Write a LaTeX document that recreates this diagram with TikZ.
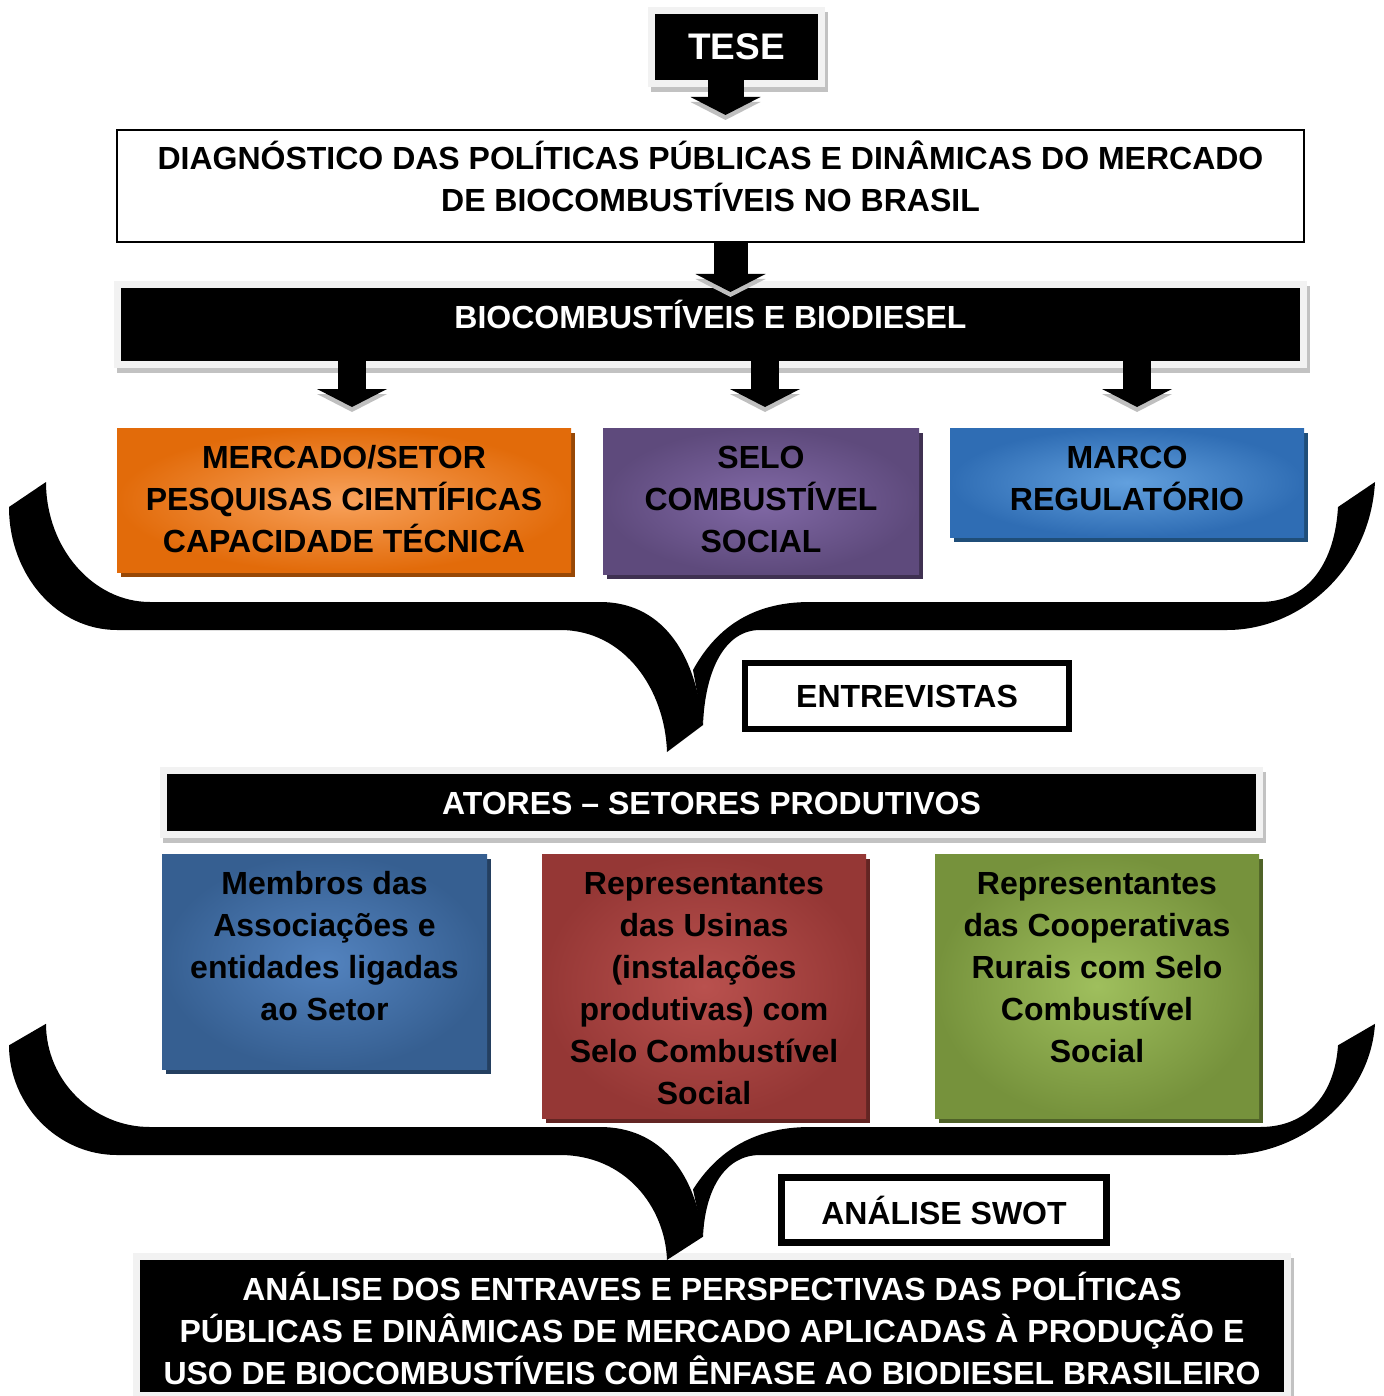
\documentclass[tikz,border=0pt]{standalone}
\usepackage{fontspec}
\setmainfont{Liberation Sans}
\usepackage{xcolor}
\usepackage{tikz}
\usetikzlibrary{arrows.meta,positioning,calc}
\definecolor{orgLight}{HTML}{F8A25C}
\definecolor{orgDark}{HTML}{E26B0A}
\definecolor{orgShadow}{HTML}{974806}
\definecolor{purLight}{HTML}{8169A6}
\definecolor{purDark}{HTML}{5E4A7C}
\definecolor{purShadow}{HTML}{3F3151}
\definecolor{bluLight}{HTML}{62A0DE}
\definecolor{bluDark}{HTML}{2F6DB4}
\definecolor{bluShadow}{HTML}{1F4E79}
\definecolor{navLight}{HTML}{5383BF}
\definecolor{navDark}{HTML}{365F91}
\definecolor{navShadow}{HTML}{243F60}
\definecolor{redLight}{HTML}{B9514E}
\definecolor{redDark}{HTML}{953735}
\definecolor{redShadow}{HTML}{632523}
\definecolor{grnLight}{HTML}{9FBF5D}
\definecolor{grnDark}{HTML}{76923C}
\definecolor{grnShadow}{HTML}{4F6228}

\newcommand{\boxtext}[3]{\parbox[c][#2][t]{#1}{\centering\rule{0pt}{40pt}#3}}
% #1 = top of the band, #2 = vertical scale of arms and tip
\newcommand{\bigbrace}[2]{%
  \fill (9,{#1-95*#2}) .. controls (9,{#1-27*#2}) and (57,#1+28) .. (117,#1+28)
    -- (560,#1+28) .. controls (625,#1+28) and (665,{#1+28+60*#2}) .. (667,{#1+28+122*#2})
    -- (703,{#1+28+95*#2}) .. controls (695,{#1+28+20*#2}) and (660,#1) .. (600,#1)
    -- (150,#1) .. controls (93,#1) and (46,{#1-54*#2}) .. (46,{#1-120*#2}) -- cycle;
  \fill (703,{#1+28+95*#2}) .. controls (705,{#1+28+40*#2}) and (725,#1+28) .. (760,#1+28)
    -- (1227,#1+28) .. controls (1300,#1+28) and (1370,{#1-32*#2}) .. (1375,{#1-120*#2})
    -- (1338,{#1-95*#2}) .. controls (1335,{#1-42*#2}) and (1310,#1) .. (1260,#1)
    -- (810,#1) .. controls (750,#1) and (715,#1+28) .. (693,{#1+28+40*#2}) -- cycle;
}

\begin{document}
\begin{tikzpicture}[x=1pt, y=-1pt,
    font=\fontsize{32}{42}\selectfont\bfseries,
    every node/.style={inner sep=0pt, outer sep=0pt, anchor=north west},
    darkbar/.style={fill=black, text=white,
      preaction={draw=black!24, line width=14pt, transform canvas={xshift=3pt, yshift=-5pt}},
      preaction={draw=black!5, line width=14pt}},
    tile/.style n args={3}{inner color=#1, outer color=#2,
      preaction={fill=#3, transform canvas={xshift=4pt, yshift=-5pt}}},
    framebox/.style={draw=black, line width=6.5pt, fill=white, anchor=center},
    blockarrow/.style={line width=#1, -{Triangle[width=70pt, length=18pt, line width=0pt]}}]
  \useasboundingbox (0,0) rectangle (1383,1396);

  \node[darkbar, minimum width=163pt, minimum height=66pt,
        font=\fontsize{37}{40}\selectfont\bfseries] (tese) at (655,14) {TESE};
  \node[draw=black, line width=2pt, fill=white] (diag) at (117,130)
    {\boxtext{1187pt}{112pt}{DIAGNÓSTICO DAS POLÍTICAS PÚBLICAS E DINÂMICAS DO MERCADO\\DE BIOCOMBUSTÍVEIS NO BRASIL}};
  \node[darkbar] (bio) at (121,288) {\boxtext{1179pt}{73pt}{BIOCOMBUSTÍVEIS E BIODIESEL}};

  \node[tile={orgLight}{orgDark}{orgShadow}] (merc) at (117,428)
    {\boxtext{454pt}{144pt}{MERCADO/SETOR\\PESQUISAS CIENTÍFICAS\\CAPACIDADE TÉCNICA}};
  \node[tile={purLight}{purDark}{purShadow}] (selo) at (603,428)
    {\boxtext{316pt}{146pt}{SELO\\COMBUSTÍVEL\\SOCIAL}};
  \node[tile={bluLight}{bluDark}{bluShadow}] (marco) at (950,428)
    {\boxtext{354pt}{109pt}{MARCO\\REGULATÓRIO}};

  \node[framebox, minimum width=324pt, minimum height=66pt] (entr) at (907,696) {ENTREVISTAS};
  \node[darkbar] (atores) at (167,774) {\boxtext{1089pt}{57pt}{ATORES – SETORES PRODUTIVOS}};

  \node[tile={navLight}{navDark}{navShadow}] (membros) at (162,854)
    {\boxtext{325pt}{215pt}{Membros das\\Associações e\\entidades ligadas\\ao Setor}};
  \node[tile={redLight}{redDark}{redShadow}] (usinas) at (542,854)
    {\boxtext{324pt}{264pt}{Representantes\\das Usinas\\(instalações\\produtivas) com\\Selo Combustível\\Social}};
  \node[tile={grnLight}{grnDark}{grnShadow}] (coop) at (935,854)
    {\boxtext{324pt}{264pt}{Representantes\\das Cooperativas\\Rurais com Selo\\Combustível\\Social}};

  \node[framebox, minimum width=325pt, minimum height=65pt] (swot) at (944,1210) {ANÁLISE SWOT};
  \node[darkbar] (final) at (140,1260)
    {\boxtext{1144pt}{132pt}{ANÁLISE DOS ENTRAVES E PERSPECTIVAS DAS POLÍTICAS\\PÚBLICAS E DINÂMICAS DE MERCADO APLICADAS À PRODUÇÃO E\\USO DE BIOCOMBUSTÍVEIS COM ÊNFASE AO BIODIESEL BRASILEIRO}};

  \foreach \src/\dst/\dx/\gap/\w in {tese/diag/15/15/36, diag/bio/20/-4/34,
      bio/merc/8/21/28, bio/selo/4/21/28, bio/marco/10/21/28}{
    \draw[blockarrow=\w, draw=black!25, shorten >=\gap pt, transform canvas={yshift=-5pt}]
      ($(\dst.north |- \src.south)+(\dx,0)$) -- ($(\dst.north)+(\dx,0)$);
    \draw[blockarrow=\w, shorten >=\gap pt]
      ($(\dst.north |- \src.south)+(\dx,0)$) -- ($(\dst.north)+(\dx,0)$);
  }

  \bigbrace{602}{1}
  \bigbrace{1127}{0.86}
\end{tikzpicture}
\end{document}
